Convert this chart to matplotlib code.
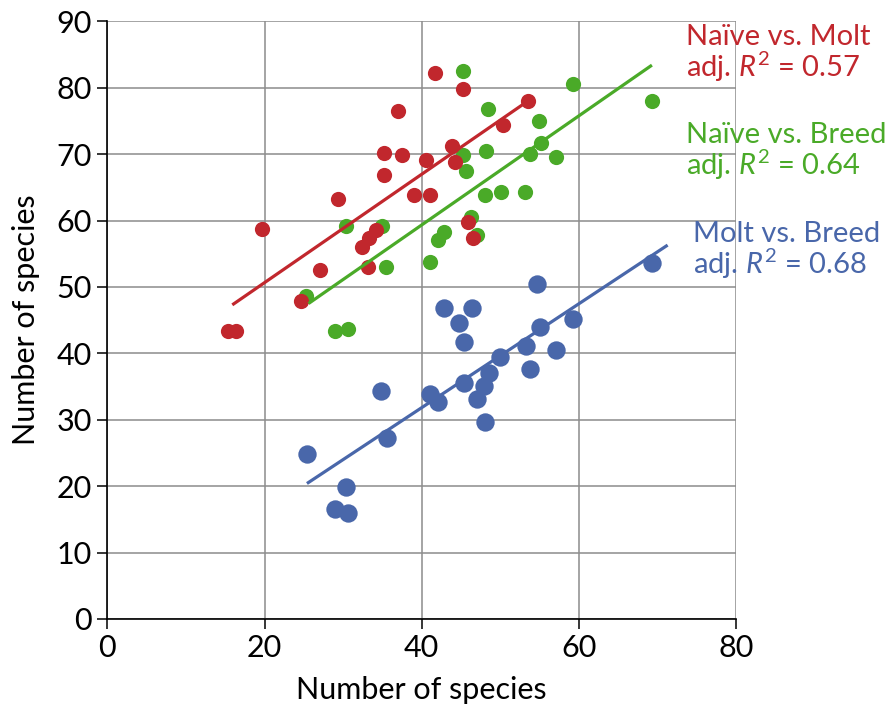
import matplotlib
matplotlib.use("Agg")
import matplotlib.pyplot as plt
import numpy as np

plt.rcParams['font.family'] = ['Lato', 'DejaVu Sans']
plt.rcParams['mathtext.fontset'] = 'custom'
plt.rcParams['mathtext.rm'] = 'Lato'
plt.rcParams['mathtext.it'] = 'Lato:italic'

# Naive vs. Molt (red)
naive_molt_x = [15.4, 16.4, 19.7, 24.6, 27.0, 29.4, 32.4, 33.3, 33.2, 34.2, 35.2, 35.2, 37.0,
                37.5, 39.0, 40.6, 41.1, 41.7, 43.9, 44.2, 45.2, 45.9, 46.5, 50.4, 53.5]
naive_molt_y = [43.4, 43.4, 58.7, 47.9, 52.5, 63.3, 56.0, 57.4, 53.0, 58.6, 70.2, 66.8, 76.5,
                69.8, 63.9, 69.1, 63.9, 82.2, 71.2, 68.8, 79.8, 59.8, 57.4, 74.4, 78.0]

# Naive vs. Breed (green)
naive_breed_x = [25.3, 29.0, 30.6, 30.4, 35.0, 35.5, 41.1, 42.1, 42.8, 45.2, 45.3, 45.6, 46.3,
                 47.1, 48.0, 48.2, 48.5, 50.1, 53.2, 53.8, 54.9, 55.2, 57.1, 59.2, 69.3]
naive_breed_y = [48.7, 43.4, 43.7, 59.2, 59.2, 53.0, 53.8, 57.1, 58.2, 82.5, 69.9, 67.5, 60.5,
                 57.8, 63.9, 70.5, 76.8, 64.3, 64.3, 70.0, 75.0, 71.6, 69.6, 80.5, 78.0]

# Molt vs. Breed (blue)
molt_breed_x = [69.3, 54.7, 42.9, 46.4, 44.8, 45.4, 55.0, 59.2, 53.3, 57.1, 50.0, 53.8, 48.6,
                45.4, 47.9, 41.1, 42.1, 47.1, 34.8, 48.0, 35.6, 25.4, 30.4, 29.0, 30.6]
molt_breed_y = [53.6, 50.5, 46.8, 46.8, 44.5, 41.7, 44.0, 45.2, 41.1, 40.5, 39.4, 37.7, 37.1,
                35.5, 35.1, 33.9, 32.6, 33.2, 34.4, 29.7, 27.2, 24.8, 19.9, 16.5, 15.9]

# trend lines (end points)
fit_nm_x = [15.9, 53.4]
fit_nm_y = [47.3, 77.9]
fit_nb_x = [25.6, 69.3]
fit_nb_y = [47.5, 83.4]
fit_mb_x = [25.4, 71.3]
fit_mb_y = [20.4, 56.3]

red = '#C1272D'
green = '#4AAA28'
blue = '#4967AA'

fig = plt.figure(figsize=(8.93, 7.10), dpi=100)
ax = fig.add_axes([0.1202, 0.1282, 0.7040, 0.8418])

ax.scatter(molt_breed_x, molt_breed_y, s=175, color=blue, linewidths=0, zorder=3)
ax.scatter(naive_breed_x, naive_breed_y, s=120, color=green, linewidths=0, zorder=3)
ax.scatter(naive_molt_x, naive_molt_y, s=120, color=red, linewidths=0, zorder=3)

ax.plot(fit_mb_x, fit_mb_y, color=blue, lw=2.3, zorder=4, solid_capstyle='butt')
ax.plot(fit_nb_x, fit_nb_y, color=green, lw=2.3, zorder=4, solid_capstyle='butt')
ax.plot(fit_nm_x, fit_nm_y, color=red, lw=2.3, zorder=4, solid_capstyle='butt')

ax.set_xlim(0, 80)
ax.set_ylim(0, 90)
ax.set_xticks(np.arange(0, 81, 20))
ax.set_yticks(np.arange(0, 91, 10))
ax.grid(True, color='#8c8c8c', lw=1.1)
ax.set_axisbelow(True)
for s in ['top', 'right']:
    ax.spines[s].set_visible(False)
for s in ['left', 'bottom']:
    ax.spines[s].set_color('black')
    ax.spines[s].set_linewidth(1.2)
    ax.spines[s].set_zorder(5)
ax.tick_params(direction='out', length=7, width=1.1, labelsize=22, pad=4)
ax.set_xlabel("Number of species", fontsize=22, labelpad=10)
ax.set_ylabel("Number of species", fontsize=22, labelpad=12)

ax.text(73.6, 89.6, "Naïve vs. Molt\nadj. $R^{2}$ = 0.57", color=red, fontsize=21,
        ha='left', va='top', linespacing=0.98, clip_on=False)
ax.text(73.6, 74.8, "Naïve vs. Breed\nadj. $R^{2}$ = 0.64", color=green, fontsize=21,
        ha='left', va='top', linespacing=0.98, clip_on=False)
ax.text(74.5, 59.9, "Molt vs. Breed\nadj. $R^{2}$ = 0.68", color=blue, fontsize=21,
        ha='left', va='top', linespacing=0.98, clip_on=False)

plt.savefig("out.png", dpi=100)
